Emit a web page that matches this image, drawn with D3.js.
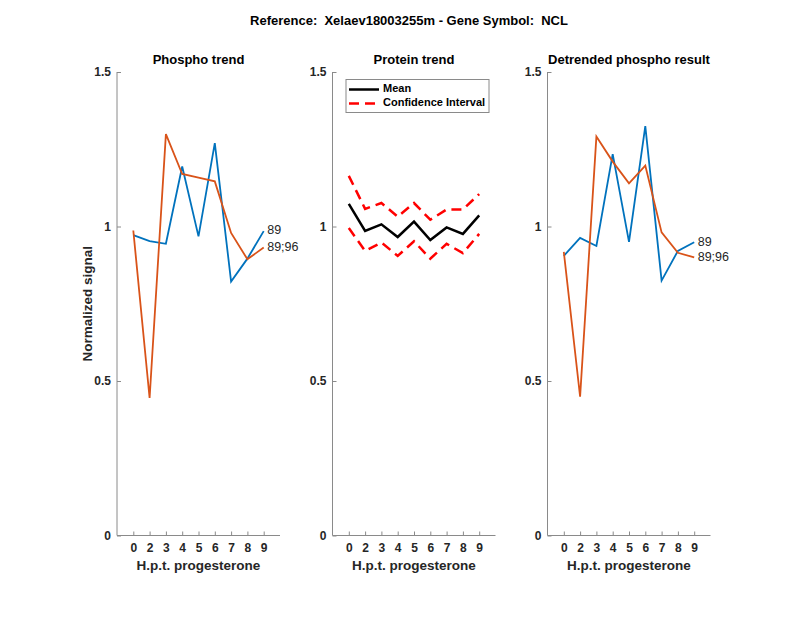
<!DOCTYPE html>
<html>
<head>
<meta charset="utf-8">
<script src="https://cdn.jsdelivr.net/npm/d3@7"></script>
<style>
	body { margin: 0; background: #fff; }
	text { font-family: "Liberation Sans", Arial, sans-serif; white-space: pre; }
</style>
</head>
<body>
<svg id="chart" width="800" height="618"></svg>
<script>
// categories (time points, hours post progesterone)
var hours = ["0", "2", "3", "4", "5", "6", "7", "8", "9"];

// phospho trend
var phospho89 = [0.972, 0.953, 0.944, 1.194, 0.968, 1.270, 0.822, 0.896, 0.985];
var phospho8996 = [0.987, 0.445, 1.299, 1.170, 1.158, 1.146, 0.979, 0.894, 0.932];

// protein trend
var proteinMean = [1.073, 0.986, 1.007, 0.966, 1.016, 0.956, 0.997, 0.976, 1.036];
var proteinUpper = [1.164, 1.057, 1.076, 1.032, 1.076, 1.022, 1.055, 1.055, 1.105];
var proteinLower = [0.995, 0.921, 0.948, 0.905, 0.952, 0.896, 0.944, 0.914, 0.976];

// detrended phospho
var detrend89 = [0.905, 0.963, 0.937, 1.234, 0.950, 1.325, 0.825, 0.921, 0.949];
var detrend8996 = [0.918, 0.449, 1.291, 1.210, 1.140, 1.197, 0.981, 0.915, 0.900];

var yTicks = [0, 0.5, 1, 1.5];
var seriesNames = ["89", "89;96"];

var BLUE = "#0072BD", ORANGE = "#D95319";
var AXIS = "#8a8a8a", LABEL = "#262626";

var svg = d3.select("#chart");

svg.append("text")
	.attr("x", 409)
	.attr("y", 22)
	.attr("text-anchor", "middle")
	.attr("dominant-baseline", "middle")
	.attr("font-size", 13)
	.attr("font-weight", "bold")
	.attr("fill", "#000")
	.text("Reference:  Xelaev18003255m - Gene Symbol:  NCL");

var yTop = 72, yBottom = 535.5, panelW = 163;
var y = d3.scaleLinear().domain([0, 1.5]).range([yBottom, yTop]);

function drawPanel(x0, title, ylabel) {
	var x = d3.scaleLinear().domain([0, 10]).range([x0, x0 + panelW]);
	var g = svg.append("g");

	// y axis
	var yAxis = g.append("g")
		.attr("transform", "translate(" + x0 + ",0)")
		.call(d3.axisLeft(y).tickValues(yTicks).tickSize(-4).tickPadding(6)
			.tickFormat(function(d) { return d == 0 ? "0" : String(d); }));
	// x axis
	var xAxis = g.append("g")
		.attr("transform", "translate(0," + yBottom + ")")
		.call(d3.axisBottom(x).tickValues(d3.range(1, 10)).tickSize(-4).tickPadding(8)
			.tickFormat(function(d) { return hours[d - 1]; }));

	[yAxis, xAxis].forEach(function(a) {
		a.select(".domain").remove();
		a.selectAll(".tick line").attr("stroke", AXIS);
		a.selectAll(".tick text")
			.attr("fill", LABEL)
			.attr("font-size", 12)
			.attr("font-weight", "bold")
			.attr("font-family", "Liberation Sans, Arial, sans-serif");
	});
	// plain axis lines (no end caps)
	g.append("line")
		.attr("x1", x0).attr("x2", x0)
		.attr("y1", yTop).attr("y2", yBottom)
		.attr("stroke", AXIS);
	g.append("line")
		.attr("x1", x0).attr("x2", x0 + panelW)
		.attr("y1", yBottom).attr("y2", yBottom)
		.attr("stroke", AXIS);

	g.append("text")
		.attr("x", x0 + panelW / 2)
		.attr("y", 61)
		.attr("text-anchor", "middle")
		.attr("dominant-baseline", "middle")
		.attr("font-size", 13)
		.attr("font-weight", "bold")
		.attr("fill", "#000")
		.text(title);

	g.append("text")
		.attr("x", x0 + panelW / 2)
		.attr("y", 566)
		.attr("text-anchor", "middle")
		.attr("dominant-baseline", "middle")
		.attr("font-size", 13.5)
		.attr("font-weight", "bold")
		.attr("fill", LABEL)
		.text("H.p.t. progesterone");

	if (ylabel) {
		g.append("text")
			.attr("transform", "translate(88," + ((yTop + yBottom) / 2) + ") rotate(-90)")
			.attr("text-anchor", "middle")
			.attr("dominant-baseline", "middle")
			.attr("font-size", 13.5)
			.attr("font-weight", "bold")
			.attr("fill", LABEL)
			.text(ylabel);
	}
	return { g: g, x: x };
}

function drawLine(p, values, color, width, dash) {
	var line = d3.line()
		.x(function(d, i) { return p.x(i + 1); })
		.y(function(d) { return y(d); });
	p.g.append("path")
		.datum(values)
		.attr("d", line)
		.attr("fill", "none")
		.attr("stroke", color)
		.attr("stroke-width", width)
		.attr("stroke-dasharray", dash || null);
}

function labelEnd(p, values, name) {
	p.g.append("text")
		.attr("x", p.x(9) + 3.5)
		.attr("y", y(values[values.length - 1]))
		.attr("dominant-baseline", "middle")
		.attr("font-size", 12.5)
		.attr("fill", LABEL)
		.text(name);
}

// left panel
var p1 = drawPanel(117, "Phospho trend", "Normalized signal");
drawLine(p1, phospho89, BLUE, 1.8);
drawLine(p1, phospho8996, ORANGE, 1.8);
labelEnd(p1, phospho89, seriesNames[0]);
labelEnd(p1, phospho8996, seriesNames[1]);

// middle panel
var p2 = drawPanel(332.5, "Protein trend");
drawLine(p2, proteinMean, "#000", 2.5);
drawLine(p2, proteinUpper, "#ff0000", 2.5, "10,6");
drawLine(p2, proteinLower, "#ff0000", 2.5, "10,6");

var leg = p2.g.append("g");
leg.append("rect")
	.attr("x", 346).attr("y", 79.5)
	.attr("width", 143).attr("height", 33)
	.attr("fill", "#fff")
	.attr("stroke", AXIS);
leg.append("line")
	.attr("x1", 349).attr("x2", 379)
	.attr("y1", 89.5).attr("y2", 89.5)
	.attr("stroke", "#000").attr("stroke-width", 2.5);
leg.append("line")
	.attr("x1", 349).attr("x2", 379)
	.attr("y1", 103.5).attr("y2", 103.5)
	.attr("stroke", "#ff0000").attr("stroke-width", 2.5)
	.attr("stroke-dasharray", "10,6");
[["Mean", 89.5], ["Confidence Interval", 103.5]].forEach(function(d) {
	leg.append("text")
		.attr("x", 383).attr("y", d[1])
		.attr("dominant-baseline", "middle")
		.attr("font-size", 11)
		.attr("font-weight", "bold")
		.attr("fill", "#000")
		.text(d[0]);
});

// right panel
var p3 = drawPanel(547.5, "Detrended phospho result");
drawLine(p3, detrend89, BLUE, 1.8);
drawLine(p3, detrend8996, ORANGE, 1.8);
labelEnd(p3, detrend89, seriesNames[0]);
labelEnd(p3, detrend8996, seriesNames[1]);
</script>
</body>
</html>
